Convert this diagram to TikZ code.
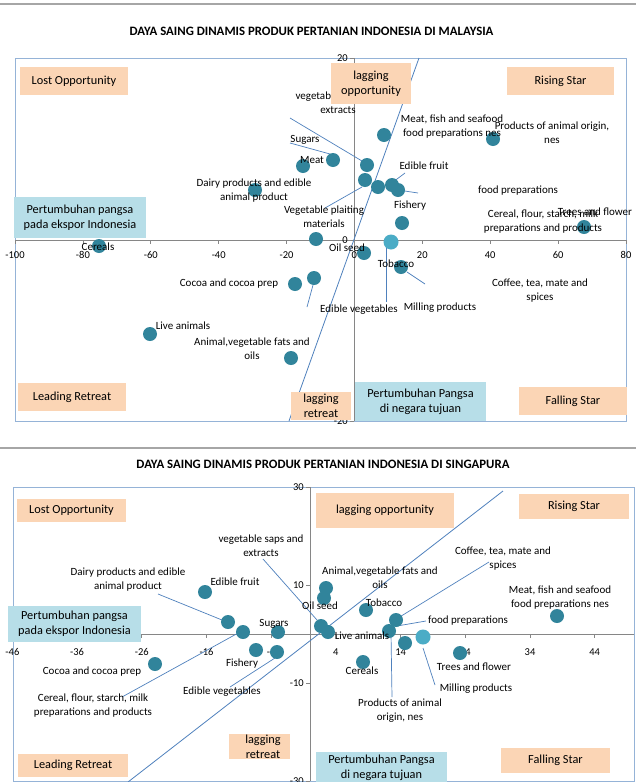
\documentclass[tikz,border=0pt]{standalone}
\usepackage{fontspec}
\setmainfont{Carlito}
\definecolor{peach}{HTML}{FBD5B5}
\definecolor{lblue}{HTML}{B7DEE8}
\definecolor{dot}{HTML}{31849B}
\definecolor{dotlight}{HTML}{4BACC6}
\definecolor{frame}{HTML}{95B3D7}
\definecolor{axisgray}{HTML}{868686}
\definecolor{leader}{HTML}{4F81BD}
\definecolor{sepgray}{HTML}{A6A6A6}
\tikzset{
  pt/.style={circle,fill=dot,inner sep=0pt,minimum size=14pt},
  ptl/.style={circle,fill=dotlight,inner sep=0pt,minimum size=15pt},
  lbl/.style={align=center,inner sep=0pt,font=\fontsize{11}{14}\selectfont},
  tick/.style={inner sep=0pt,font=\fontsize{10.5}{12}\selectfont},
  qbox/.style={fill=peach,draw=none},
  bbox/.style={fill=lblue,draw=none},
  btxt/.style={align=center,inner sep=0pt,font=\fontsize{12.3}{15}\selectfont},
  ttl/.style={inner sep=0pt,font=\fontsize{12.8}{14}\selectfont\bfseries},
  lead/.style={draw=leader,line width=0.7pt},
  diag/.style={draw=leader,line width=0.8pt},
  axisl/.style={draw=axisgray,line width=0.8pt},
  framel/.style={draw=frame,line width=1pt},
  sepl/.style={draw=sepgray,line width=1.5pt}
}
\begin{document}
\begin{tikzpicture}[x=1pt,y=-1pt]
\useasboundingbox (0,0) rectangle (636,782);
\clip (0,0) rectangle (636,782);
\fill[white] (0,0) rectangle (636,782);

%%%%%%%%%%%%%%%% CHART 1 %%%%%%%%%%%%%%%%
\draw[sepl] (0,4) -- (636,4);
\node[ttl] (t1) at (311.5,31) {DAYA SAING DINAMIS PRODUK PERTANIAN INDONESIA DI MALAYSIA};
\draw[framel] (15,58) rectangle (626,421);
% axes
\coordinate (ax1l) at (15,240); \coordinate (ax1r) at (626,240);
\coordinate (ay1t) at (354,58); \coordinate (ay1b) at (354,421);
\draw[axisl] (ax1l) -- (ax1r);
\draw[axisl] (ay1t) -- (ay1b);
\foreach \v/\px in {-100/15,-80/82.9,-60/150.8,-40/218.7,-20/286.6,0/354.4,20/422.3,40/490.2,60/558.1,80/626}{
  \draw[axisl] (\px,240) -- (\px,244);
  \node[tick] at (\px,255) {\v};
}
\foreach \v/\py in {20/58,0/240,-20/421}{
  \draw[axisl] (350,\py) -- (354,\py);
  \node[tick,anchor=east] at (348,\py) {\v};
}
% diagonal
\coordinate (dg1a) at (289,421); \coordinate (dg1b) at (419,58);
\draw[diag] (dg1a) -- (dg1b);
% leaders
\coordinate (l1a) at (290,118); \coordinate (l1b) at (362,161);
\coordinate (l2a) at (290,143); \coordinate (l2b) at (330,154);
\coordinate (l3a) at (405,173); \coordinate (l3b) at (393,182);
\coordinate (l4a) at (325,208); \coordinate (l4b) at (362,187);
\coordinate (l5a) at (398,190); \coordinate (l5b) at (418,193);
\coordinate (l6a) at (386,247); \coordinate (l6b) at (386,302);
\coordinate (l7a) at (407,272); \coordinate (l7b) at (425,284);
\coordinate (l8a) at (313,285); \coordinate (l8b) at (307,307);
\foreach \i in {1,...,8}{\draw[lead] (l\i a) -- (l\i b);}
% points
\node[pt] (c1) at (99,246) {};
\node[pt] (c2) at (150,334) {};
\node[pt] (c3) at (291,358) {};
\node[pt] (c4) at (295,284) {};
\node[pt] (c5) at (314,278) {};
\node[pt] (c6) at (316,239) {};
\node[pt] (c7) at (255,190) {};
\node[pt] (c8) at (303,166) {};
\node[pt] (c9) at (333,160) {};
\node[pt] (c10) at (367,165) {};
\node[pt] (c11) at (365,180) {};
\node[pt] (c12) at (378,187) {};
\node[pt] (c13) at (392,185) {};
\node[pt] (c14) at (398,190) {};
\node[pt] (c15) at (384,135) {};
\node[pt] (c16) at (493,139) {};
\node[pt] (c17) at (402,223) {};
\node[ptl] (c18) at (391,242) {};
\node[pt] (c19) at (364,253) {};
\node[pt] (c20) at (401,267) {};
\node[pt] (c21) at (584,227) {};
% labels
\node[lbl] (m1) at (338,102.5) {vegetable saps and\\extracts};
\node[lbl] (m2) at (452,126.5) {Meat, fish and seafood\\food preparations nes};
\node[lbl] (m3) at (552,132.5) {Products of animal origin,\\nes};
\node[lbl] (m4) at (305,140) {Sugars};
\node[lbl] (m5) at (312,160) {Meat};
\node[lbl] (m6) at (254,190.5) {Dairy products and edible\\animal product};
\node[lbl] (m7) at (424,166) {Edible fruit};
\node[lbl] (m8) at (518,191) {food preparations};
\node[lbl] (m9) at (410,206) {Fishery};
\node[lbl] (m10) at (324,217) {Vegetable plaiting\\materials};
\node[lbl] (m11) at (543,221.5) {Cereal, flour, starch, milk\\preparations and products};
\node[lbl] (m12) at (595,212) {Trees and flower};
\node[lbl] (m13) at (98,247) {Cereals};
\node[lbl] (m14) at (347,248) {Oil seed};
\node[lbl] (m15) at (396,264) {Tobacco};
\node[lbl] (m16) at (540,291) {Coffee, tea, mate and\\spices};
\node[lbl] (m17) at (229,284) {Cocoa and cocoa prep};
\node[lbl] (m18) at (359,310) {Edible vegetables};
\node[lbl] (m19) at (440,308) {Milling products};
\node[lbl] (m20) at (183,326) {Live animals};
\node[lbl] (m21) at (252,348.5) {Animal,vegetable fats and\\oils};
% quadrant boxes
\fill[qbox] (20,67) rectangle (128,95);   \node[btxt] (b1) at (74,81) {Lost Opportunity};
\fill[qbox] (331,63) rectangle (411,104); \node[btxt] (b2) at (371,83.5) {lagging\\opportunity};
\fill[qbox] (507,67) rectangle (614,95);  \node[btxt] (b3) at (560.5,81) {Rising Star};
\fill[bbox] (14,197) rectangle (146,238); \node[btxt] (b4) at (80,217.5) {Pertumbuhan pangsa\\pada ekspor Indonesia};
\fill[qbox] (18,383) rectangle (126,411); \node[btxt] (b5) at (72,397) {Leading Retreat};
\fill[qbox] (291,392) rectangle (351,420);\node[btxt] (b6) at (321,406) {lagging\\retreat};
\fill[bbox] (355,382) rectangle (486,421);\node[btxt] (b7) at (420.5,401.5) {Pertumbuhan Pangsa\\di negara tujuan};
\fill[qbox] (519,387) rectangle (627,415);\node[btxt] (b8) at (573,401) {Falling Star};

%%%%%%%%%%%%%%%% CHART 2 %%%%%%%%%%%%%%%%
\draw[sepl] (0,448) -- (636,448);
\node[ttl] (t2) at (323,464) {DAYA SAING DINAMIS PRODUK PERTANIAN INDONESIA DI SINGAPURA};
\draw[framel] (13,487) rectangle (634,781);
\coordinate (ax2l) at (13,634); \coordinate (ax2r) at (634,634);
\coordinate (ay2t) at (310,487); \coordinate (ay2b) at (310,781);
\draw[axisl] (ax2l) -- (ax2r);
\draw[axisl] (ay2t) -- (ay2b);
\foreach \v/\px in {-46/12.4,-36/77.1,-26/141.8,-16/206.5,-6/271.2,4/335.9,14/400.6,24/465.3,34/530,44/594.7}{
  \draw[axisl] (\px,634) -- (\px,638);
  \node[tick] at (\px,652) {\v};
}
\foreach \v/\py in {30/487,10/585,-10/683,-30/781}{
  \draw[axisl] (306,\py) -- (310,\py);
  \node[tick,anchor=east] at (304,\py) {\v};
}
\coordinate (dg2a) at (128,782); \coordinate (dg2b) at (503,491);
\draw[diag] (dg2a) -- (dg2b);
% leaders
\coordinate (k1a) at (263,559); \coordinate (k1b) at (317,620);
\coordinate (k2a) at (158,594); \coordinate (k2b) at (222,620);
\coordinate (k3a) at (122,697); \coordinate (k3b) at (240,632);
\coordinate (k4a) at (230,687); \coordinate (k4b) at (275,658);
\coordinate (k5a) at (489,562); \coordinate (k5b) at (398,618);
\coordinate (k6a) at (426,621); \coordinate (k6b) at (397,626);
\coordinate (k7a) at (391,633); \coordinate (k7b) at (392,697);
\coordinate (k8a) at (423,648); \coordinate (k8b) at (435,685);
\foreach \i in {1,...,8}{\draw[lead] (k\i a) -- (k\i b);}
% points
\node[pt] (d1) at (205,592) {};
\node[pt] (d2) at (228,622) {};
\node[pt] (d3) at (243,632) {};
\node[pt] (d4) at (278,632) {};
\node[pt] (d5) at (155,664) {};
\node[pt] (d6) at (256,650) {};
\node[pt] (d7) at (277,652) {};
\node[pt] (d8) at (326,588) {};
\node[pt] (d9) at (324,598) {};
\node[pt] (d10) at (321,626) {};
\node[pt] (d11) at (328,632) {};
\node[pt] (d12) at (366,610) {};
\node[pt] (d13) at (396,620) {};
\node[pt] (d14) at (389,631) {};
\node[pt] (d15) at (405,643) {};
\node[ptl] (d16) at (423,637) {};
\node[pt] (d17) at (460,653) {};
\node[pt] (d18) at (363,662) {};
\node[pt] (d19) at (557,616) {};
% labels
\node[lbl] (n1) at (261,545.5) {vegetable saps and\\extracts};
\node[lbl] (n2) at (128,579.5) {Dairy products and edible\\animal product};
\node[lbl] (n3) at (235,582) {Edible fruit};
\node[lbl] (n4) at (274,624) {Sugars};
\node[lbl] (n5) at (320,606) {Oil seed};
\node[lbl] (n6) at (380,578) {Animal,vegetable fats and\\oils};
\node[lbl] (n7) at (503,558.5) {Coffee, tea, mate and\\spices};
\node[lbl] (n8) at (384,603) {Tobacco};
\node[lbl] (n9) at (560,598) {Meat, fish and seafood\\food preparations nes};
\node[lbl] (n10) at (468,621) {food preparations};
\node[lbl] (n11) at (362,636) {Live animals};
\node[lbl] (n12) at (362,671) {Cereals};
\node[lbl] (n13) at (474,667) {Trees and flower};
\node[lbl] (n14) at (476,689) {Milling products};
\node[lbl] (n15) at (400,711) {Products of animal\\origin, nes};
\node[lbl] (n16) at (92,672) {Cocoa and cocoa prep};
\node[lbl] (n17) at (93,705.5) {Cereal, flour, starch, milk\\preparations and products};
\node[lbl] (n18) at (242,664) {Fishery};
\node[lbl] (n19) at (222,692) {Edible vegetables};
% boxes
\fill[qbox] (17,499) rectangle (126,522);  \node[btxt] (e1) at (71.5,510.5) {Lost Opportunity};
\fill[qbox] (316,493) rectangle (454,528); \node[btxt] (e2) at (385,510.5) {lagging opportunity};
\fill[qbox] (519,494) rectangle (629,519); \node[btxt] (e3) at (574,506.5) {Rising Star};
\fill[bbox] (8,606) rectangle (141,642);   \node[btxt] (e4) at (74.5,624) {Pertumbuhan pangsa\\pada ekspor Indonesia};
\fill[qbox] (18,754) rectangle (128,777);  \node[btxt] (e5) at (73,765.5) {Leading Retreat};
\fill[qbox] (229,734) rectangle (290,759); \node[btxt] (e6) at (263,746.5) {lagging\\retreat};
\fill[bbox] (316,752) rectangle (447,783); \node[btxt] (e7) at (381.5,768) {Pertumbuhan Pangsa\\di negara tujuan};
\fill[qbox] (501,748) rectangle (610,773); \node[btxt] (e8) at (555.5,760.5) {Falling Star};
\end{tikzpicture}
\end{document}
